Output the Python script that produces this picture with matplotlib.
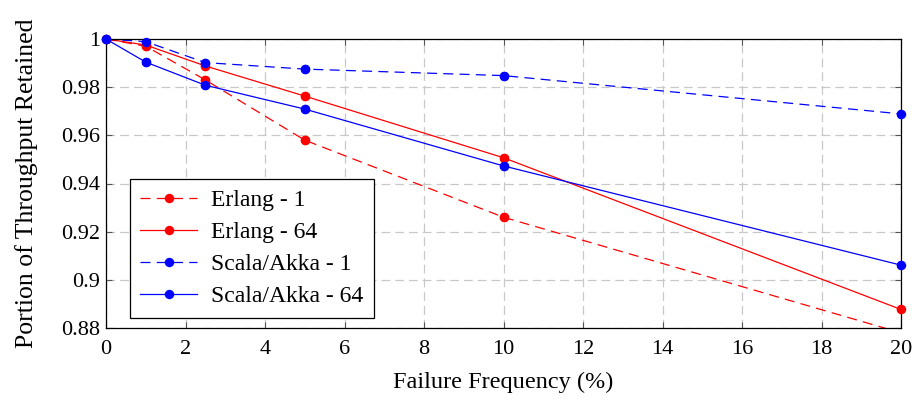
import matplotlib
matplotlib.use("Agg")
import matplotlib.pyplot as plt
from matplotlib.ticker import FuncFormatter, MultipleLocator

plt.rcParams['font.family'] = ['Liberation Serif', 'DejaVu Serif']

failure_pct = [0, 1, 2.5, 5, 10, 20]
erlang_1 = [1.0, 0.9970, 0.9830, 0.9580, 0.9260, 0.8780]
erlang_64 = [1.0, 0.9975, 0.9888, 0.9763, 0.9507, 0.8877]
scala_1 = [1.0, 0.9989, 0.9902, 0.9875, 0.9848, 0.9689]
scala_64 = [1.0, 0.9904, 0.9808, 0.9709, 0.9473, 0.9061]

series = [
    ("Erlang - 1", erlang_1, "red", "--"),
    ("Erlang - 64", erlang_64, "red", "-"),
    ("Scala/Akka - 1", scala_1, "blue", "--"),
    ("Scala/Akka - 64", scala_64, "blue", "-"),
]

YMIN, YMAX = 0.88, 1.0
MS = 6.8

fig = plt.figure(figsize=(9.14, 4.0), dpi=100)
ax = fig.add_axes([106 / 914, 1 - 328 / 400, (901 - 106) / 914, (328 - 39) / 400])

for label, ys, color, ls in series:
    kw = dict(color=color, lw=0.9, marker='o', markersize=MS, markeredgewidth=0)
    if ls == "--":
        kw['dashes'] = (8, 5)
    ax.plot(failure_pct, ys, label=label, **kw)
    xs_in = [x for x, y in zip(failure_pct, ys) if YMIN <= y <= YMAX]
    ys_in = [y for y in ys if YMIN <= y <= YMAX]
    ax.plot(xs_in, ys_in, ls='none', marker='o', markersize=MS,
            markeredgewidth=0, color=color, clip_on=False, zorder=5)

ax.set_xlim(0, 20)
ax.set_ylim(YMIN, YMAX)
ax.xaxis.set_major_locator(MultipleLocator(2))
ax.yaxis.set_major_locator(MultipleLocator(0.02))
ax.yaxis.set_major_formatter(FuncFormatter(lambda v, p: "%g" % round(v, 4)))

ax.grid(True, color='#c8c8c8', lw=0.9, dashes=(7, 4))
ax.set_axisbelow(True)
ax.tick_params(direction='in', top=True, right=True, length=4, width=0.8,
               color='#555555', labelsize=16)
ax.tick_params(axis='x', pad=9)
ax.tick_params(axis='y', pad=4)
for s in ax.spines.values():
    s.set_linewidth(0.9)

ax.set_xlabel("Failure Frequency (%)", fontsize=17.5, labelpad=9)
ax.set_ylabel("Portion of Throughput Retained", fontsize=18.5, labelpad=17)

leg = ax.legend(loc='lower left', bbox_to_anchor=(0.03, 0.035), fontsize=17,
                frameon=True, fancybox=False, edgecolor='black',
                handlelength=2.4, handletextpad=0.6, borderpad=0.45,
                labelspacing=0.45, borderaxespad=0)
leg.get_frame().set_linewidth(0.9)
leg.get_frame().set_alpha(1)

fig.savefig("out.png", dpi=100)
